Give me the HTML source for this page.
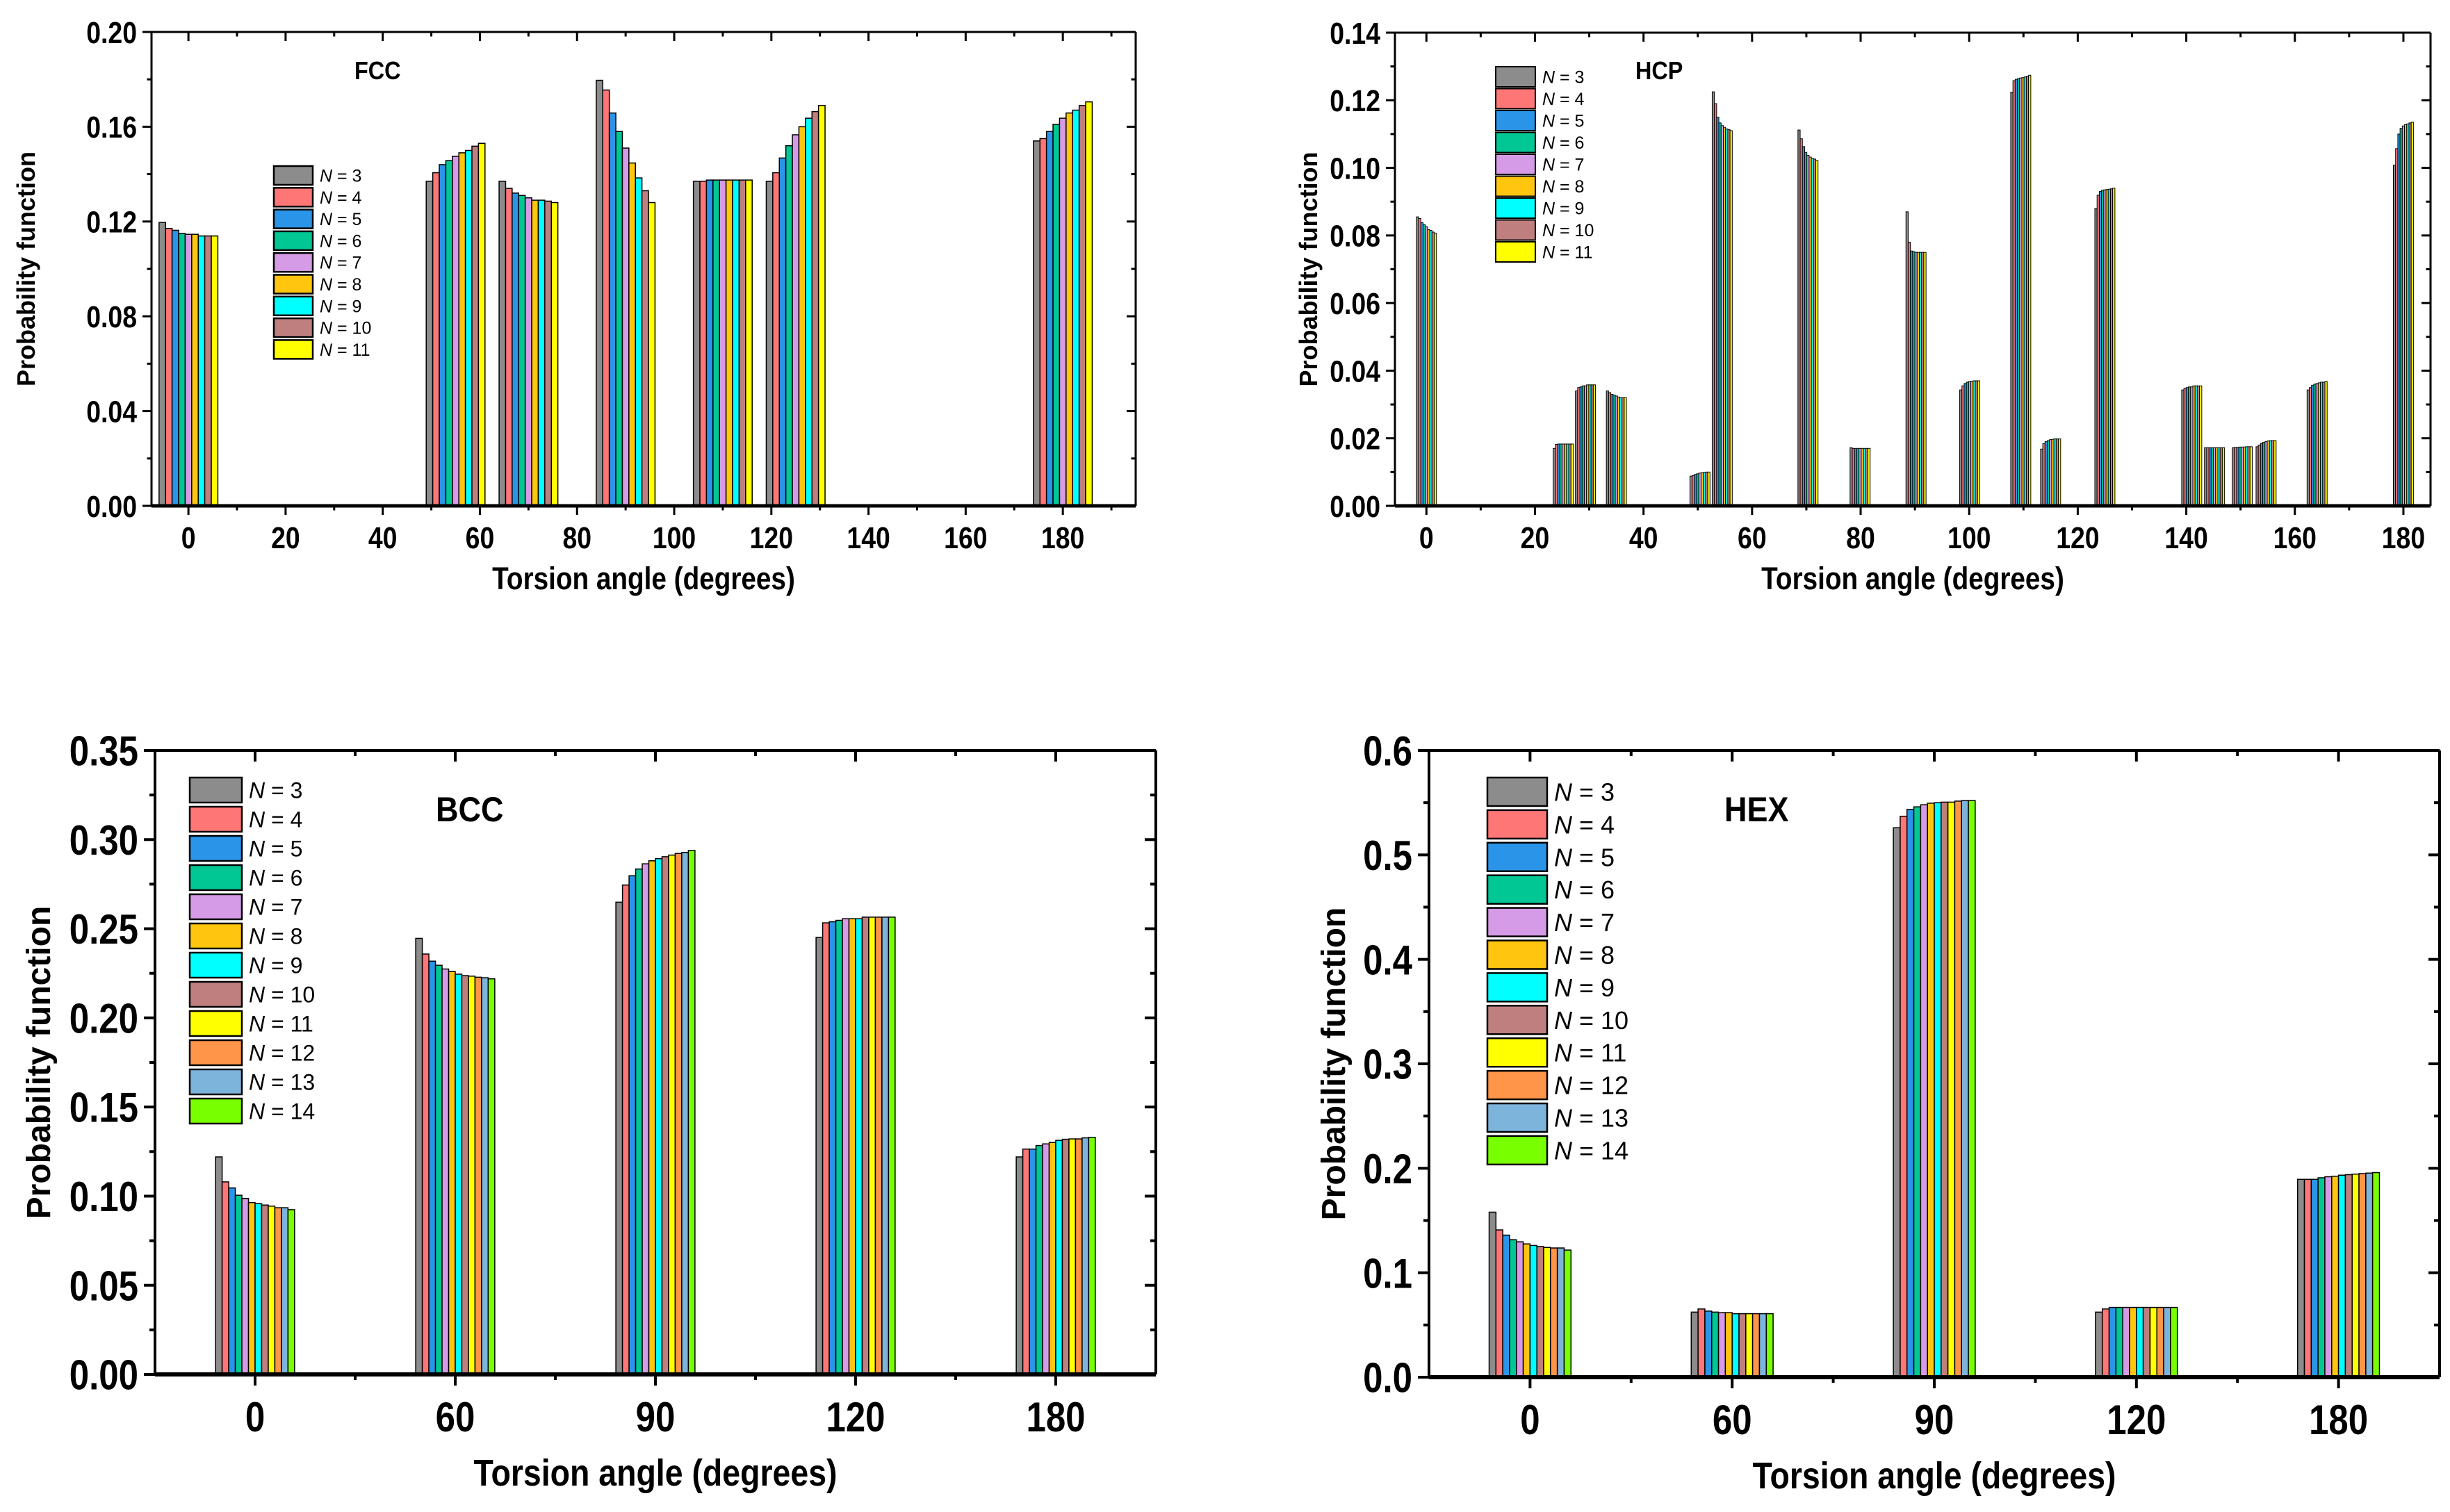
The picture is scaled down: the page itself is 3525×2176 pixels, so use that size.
<!DOCTYPE html>
<html><head><meta charset="utf-8">
<style>
html,body{margin:0;padding:0;background:#fff;}
svg{display:block;font-family:"Liberation Sans",Arial,sans-serif;}
</style></head>
<body>
<svg id="fig" width="3525" height="2176" viewBox="0 0 3525 2176" xmlns="http://www.w3.org/2000/svg">
<rect x="0" y="0" width="3525" height="2176" fill="#fff"/>
</svg>
<script>
// ---------- data ----------
const colors = ["#8c8c8c","#ff7676","#2a95e8","#00c794","#d69be6","#ffc50f","#00ffff","#c07f7f","#ffff00","#ff9548","#7db4db","#78ff00"];
const legendN9 = ["3","4","5","6","7","8","9","10","11"];
const legendN12 = ["3","4","5","6","7","8","9","10","11","12","13","14"];

const fccCenters = [0,55,70,90,110,125,180];
const fccValues = [
 [0.1196,0.1171,0.1163,0.1150,0.1146,0.1146,0.1139,0.1139,0.1139],
 [0.137,0.1406,0.144,0.1457,0.1475,0.149,0.150,0.1518,0.153],
 [0.137,0.134,0.132,0.131,0.130,0.129,0.129,0.1286,0.128],
 [0.1796,0.1755,0.1658,0.158,0.151,0.1447,0.1384,0.133,0.128],
 [0.137,0.137,0.1375,0.1375,0.1375,0.1375,0.1375,0.1375,0.1375],
 [0.137,0.1406,0.1468,0.152,0.1566,0.160,0.1636,0.1664,0.169],
 [0.154,0.155,0.158,0.161,0.1636,0.1658,0.167,0.169,0.1705]
];
const fccYTicks = ["0.00","0.04","0.08","0.12","0.16","0.20"];
const fccXTicks = ["0","20","40","60","80","100","120","140","160","180"];

const hcpCenters = [0,25.2,29.3,35,50.4,54.5,70.3,79.9,90.2,100.1,109.5,115,125,141,145.2,150.3,154.7,164.1,180];
const hcpValues = [
 [0.0855,0.0850,0.0838,0.0832,0.0826,0.0817,0.0815,0.081,0.0807],
 [0.017,0.0182,0.0183,0.0183,0.0183,0.0183,0.0183,0.0183,0.0183],
 [0.034,0.035,0.0352,0.0355,0.0355,0.0358,0.0358,0.0358,0.0358],
 [0.034,0.0335,0.033,0.0328,0.0325,0.0322,0.032,0.032,0.032],
 [0.0088,0.009,0.0093,0.0095,0.0097,0.0098,0.0099,0.01,0.01],
 [0.1225,0.119,0.115,0.1133,0.1125,0.112,0.1115,0.1113,0.111],
 [0.1112,0.1086,0.1063,0.1046,0.1037,0.1032,0.1028,0.1026,0.1022],
 [0.0172,0.017,0.017,0.017,0.017,0.017,0.017,0.017,0.017],
 [0.087,0.078,0.0754,0.0752,0.075,0.075,0.075,0.075,0.075],
 [0.0343,0.0355,0.0362,0.0366,0.0368,0.0369,0.037,0.037,0.037],
 [0.1224,0.1258,0.1262,0.1264,0.1266,0.1267,0.1269,0.1271,0.1274],
 [0.0168,0.0184,0.019,0.0193,0.0196,0.0197,0.0198,0.0198,0.0198],
 [0.088,0.0919,0.093,0.0934,0.0935,0.0936,0.0937,0.0938,0.094],
 [0.0343,0.0348,0.035,0.0352,0.0352,0.0355,0.0355,0.0355,0.0355],
 [0.0172,0.0172,0.0172,0.0172,0.0172,0.0172,0.0172,0.0172,0.0172],
 [0.0172,0.0173,0.0173,0.0174,0.0174,0.0174,0.0175,0.0175,0.0175],
 [0.0175,0.018,0.0185,0.0188,0.019,0.0192,0.0193,0.0193,0.0193],
 [0.0343,0.035,0.0357,0.036,0.0362,0.0364,0.0366,0.0366,0.0368],
 [0.1008,0.1057,0.11,0.1117,0.1124,0.1128,0.113,0.1133,0.1135]
];
const hcpYTicks = ["0.00","0.02","0.04","0.06","0.08","0.10","0.12","0.14"];
const hcpXTicks = ["0","20","40","60","80","100","120","140","160","180"];

const bccCategories = ["0","60","90","120","180"];
const bccValues = [
 [0.122,0.108,0.1046,0.1005,0.0987,0.0964,0.0958,0.095,0.0944,0.0935,0.0935,0.0924],
 [0.2446,0.2358,0.2318,0.2295,0.2274,0.226,0.2245,0.2237,0.2234,0.2228,0.2225,0.2219],
 [0.2649,0.2745,0.2797,0.2835,0.2864,0.2881,0.2893,0.2904,0.2913,0.2922,0.2928,0.2939],
 [0.2451,0.2533,0.2539,0.2547,0.2556,0.2556,0.2556,0.2565,0.2565,0.2565,0.2565,0.2565],
 [0.122,0.1264,0.1264,0.1284,0.1293,0.1301,0.1313,0.1319,0.1321,0.1321,0.1327,0.133]
];
const bccYTicks = ["0.00","0.05","0.10","0.15","0.20","0.25","0.30","0.35"];

const hexCategories = ["0","60","90","120","180"];
const hexValues = [
 [0.158,0.141,0.136,0.1316,0.1296,0.1276,0.1261,0.1251,0.1242,0.1237,0.1237,0.1217],
 [0.0623,0.0653,0.0633,0.0623,0.0618,0.0618,0.0608,0.0608,0.0608,0.0608,0.0608,0.0608],
 [0.526,0.537,0.5436,0.546,0.548,0.5495,0.55,0.5505,0.5505,0.5515,0.552,0.552],
 [0.0623,0.0653,0.0668,0.0668,0.0668,0.0668,0.0668,0.0668,0.0668,0.0668,0.0668,0.0668],
 [0.1894,0.1894,0.1894,0.1909,0.1919,0.1924,0.1934,0.1939,0.1944,0.1949,0.1954,0.1959]
];
const hexYTicks = ["0.0","0.1","0.2","0.3","0.4","0.5","0.6"];

// ---------- helpers ----------
const NS = "http://www.w3.org/2000/svg";
const svg = document.getElementById("fig");
function mk(tag, attrs, parent){
  const e = document.createElementNS(NS, tag);
  for (const k in attrs) e.setAttribute(k, attrs[k]);
  (parent||svg).appendChild(e);
  return e;
}
function txt(parent, x, y, s, size, anchor, sx, weight, rot){
  const g = mk("g", {transform:"translate("+x+","+y+")"+(rot?" rotate("+rot+")":"")+" scale("+sx+",1)"}, parent);
  const t = mk("text", {x:0, y:0, "font-size":size, "font-weight":weight||"bold", "text-anchor":anchor, fill:"#000"}, g);
  t.textContent = s;
  return t;
}

function drawChart(o){
  const g = mk("g", {});
  
  
  const X = v => o.L + (v - o.xmin) / (o.xmax - o.xmin) * (o.R - o.L);
  const Y = v => o.B - (v - o.ymin) / (o.ymax - o.ymin) * (o.B - o.T);
  const bars = mk("g", {}, g);
  
  
  o.values.forEach((grp, gi) => {
    const n = grp.length;
    const c = o.centers[gi];
    grp.forEach((v, i) => {
      const x0 = X(c - o.groupW/2 + i*o.groupW/n);
      const x1 = X(c - o.groupW/2 + (i+1)*o.groupW/n);
      const r = mk("rect", {x:x0, y:Y(v), width:Math.max(0.5,x1-x0), height:Y(0)-Y(v), fill:colors[i], stroke:"#000", "stroke-width":o.bw}, bars);
      
      
    });
  });
  const ax = mk("g", {stroke:"#000", fill:"none"}, g);
  
  
  mk("line", {x1:o.L, y1:o.T, x2:o.R, y2:o.T, "stroke-width":o.aw}, ax);
  mk("line", {x1:o.L, y1:o.B, x2:o.R, y2:o.B, "stroke-width":o.aw+2}, ax);
  mk("line", {x1:o.L, y1:o.T, x2:o.L, y2:o.B, "stroke-width":o.aw}, ax);
  mk("line", {x1:o.R, y1:o.T, x2:o.R, y2:o.B, "stroke-width":o.aw}, ax);
  const ny = o.yTicks.length;
  for (let i = 0; i < ny; i++){
    const v = o.ymin + i*(o.ymax-o.ymin)/(ny-1);
    const y = Y(v);
    mk("line", {x1:o.L-o.tk, y1:y, x2:o.L, y2:y, "stroke-width":o.aw}, ax);
    mk("line", {x1:o.R-o.tk, y1:y, x2:o.R, y2:y, "stroke-width":o.aw}, ax);
    if (i < ny-1){
      const ym = Y(v + (o.ymax-o.ymin)/(ny-1)/2);
      mk("line", {x1:o.L-o.tk/2, y1:ym, x2:o.L, y2:ym, "stroke-width":o.aw}, ax);
      mk("line", {x1:o.R-o.tk/2, y1:ym, x2:o.R, y2:ym, "stroke-width":o.aw}, ax);
    }
    const t = txt(g, o.L - o.tk - 8, y + o.fs*0.36, o.yTicks[i], o.fs, "end", o.sx);
    
    
  }
  o.xTickVals.forEach((v, i) => {
    const x = X(v);
    mk("line", {x1:x, y1:o.B, x2:x, y2:o.B+o.tk, "stroke-width":o.aw}, ax);
    mk("line", {x1:x, y1:o.T, x2:x, y2:o.T+o.tk, "stroke-width":o.aw}, ax);
    const t = txt(g, x, o.xLabY, o.xTicks[i], o.fs, "middle", o.sx);
    
    
  });
  o.xMinorVals.forEach(v => {
    const x = X(v);
    if (x <= o.L+2 || x >= o.R-2) return;
    mk("line", {x1:x, y1:o.B, x2:x, y2:o.B+o.tk/2, "stroke-width":o.aw}, ax);
    mk("line", {x1:x, y1:o.T, x2:x, y2:o.T+o.tk/2, "stroke-width":o.aw}, ax);
  });
  let t = txt(g, (o.L+o.R)/2, o.xTitleY, "Torsion angle (degrees)", o.tfs, "middle", 0.86);
  
  
  t = txt(g, o.yTitleX, (o.T+o.B)/2, "Probability function", o.yfs, "middle", 1, "bold", -90);
  
  
  t = txt(g, o.titleX, o.titleY, o.title, o.titfs, "start", 0.9);
  
  
  const lg = mk("g", {}, g);
  
  
  o.legend.forEach((s, i) => {
    const y = o.lgY + i*o.lgP;
    const r = mk("rect", {x:o.lgX, y:y, width:o.lgW, height:o.lgH, fill:colors[i], stroke:"#000", "stroke-width":o.bw+1}, lg);
    
    
    const tt = mk("text", {x:o.lgX+o.lgW+10, y:y+o.lgH/2+o.lfs*0.36, "font-size":o.lfs, fill:"#000"}, lg);
    
    
    const ts = mk("tspan", {"font-style":"italic"}, tt); ts.textContent = "N";
    const ts2 = mk("tspan", {}, tt); ts2.textContent = " = " + s;
  });
}

drawChart({name:"fcc-chart", L:218, R:1634, T:46, B:728, xmin:-7.6, xmax:195, ymin:0, ymax:0.20,
  centers:fccCenters, values:fccValues, groupW:12.1, bw:1.5, aw:3, tk:13,
  yTicks:fccYTicks, xTicks:fccXTicks, xTickVals:[0,20,40,60,80,100,120,140,160,180],
  xMinorVals:[-10,10,30,50,70,90,110,130,150,170,190],
  fs:44, sx:0.85, xLabY:789, xTitleY:848, tfs:45, yTitleX:50, yfs:36,
  title:"FCC", titleX:510, titleY:114, titfs:36,
  legend:legendN9, lgX:394, lgY:239, lgW:56, lgH:27, lgP:31.3, lfs:25});

drawChart({name:"hcp-chart", L:2007, R:3497, T:47, B:728, xmin:-5.8, xmax:185, ymin:0, ymax:0.14,
  centers:hcpCenters, values:hcpValues, groupW:3.7, bw:1, aw:3, tk:13,
  yTicks:hcpYTicks, xTicks:hcpXTicks, xTickVals:[0,20,40,60,80,100,120,140,160,180],
  xMinorVals:[10,30,50,70,90,110,130,150,170],
  fs:44, sx:0.85, xLabY:789, xTitleY:848, tfs:45, yTitleX:1895, yfs:36,
  title:"HCP", titleX:2353, titleY:114, titfs:36,
  legend:legendN9, lgX:2152, lgY:96, lgW:57, lgH:29, lgP:31.5, lfs:25});

drawChart({name:"bcc-chart", L:223, R:1663, T:1080, B:1978, xmin:0.5, xmax:5.5, ymin:0, ymax:0.35,
  centers:[1,2,3,4,5], values:bccValues, groupW:0.395, bw:1.5, aw:4, tk:16,
  yTicks:bccYTicks, xTicks:bccCategories, xTickVals:[1,2,3,4,5],
  xMinorVals:[0.5,1.5,2.5,3.5,4.5,5.5],
  fs:60, sx:0.85, xLabY:2060, xTitleY:2138, tfs:54, yTitleX:72, yfs:48,
  title:"BCC", titleX:627, titleY:1182, titfs:50,
  legend:legendN12, lgX:273, lgY:1119, lgW:75, lgH:36, lgP:42, lfs:32});

drawChart({name:"hex-chart", L:2056, R:3510, T:1080, B:1982, xmin:0.5, xmax:5.5, ymin:0, ymax:0.6,
  centers:[1,2,3,4,5], values:hexValues, groupW:0.405, bw:1.5, aw:4, tk:16,
  yTicks:hexYTicks, xTicks:hexCategories, xTickVals:[1,2,3,4,5],
  xMinorVals:[0.5,1.5,2.5,3.5,4.5,5.5],
  fs:60, sx:0.85, xLabY:2064, xTitleY:2142, tfs:54, yTitleX:1935, yfs:48,
  title:"HEX", titleX:2481, titleY:1182, titfs:50,
  legend:legendN12, lgX:2140, lgY:1119, lgW:86, lgH:41, lgP:46.9, lfs:36});
</script>
</body></html>
